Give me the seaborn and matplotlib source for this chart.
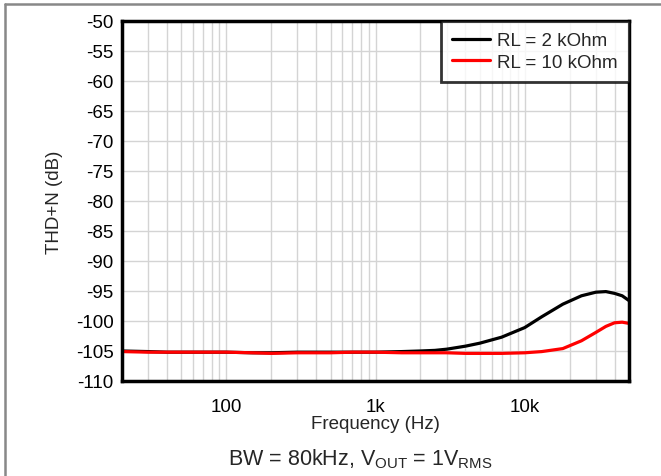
import matplotlib
matplotlib.use("Agg")
import matplotlib.pyplot as plt
import matplotlib.lines as mlines
from matplotlib.ticker import FixedLocator, NullFormatter
import seaborn as sns
import pandas as pd

freq = [20, 30, 40, 50, 70, 100, 150, 200, 300, 500, 700, 1000, 1500, 2000,
        2500, 3000, 4000, 5000, 7000, 10000, 13000, 18000, 24000, 30000,
        35000, 40000, 45000, 50000]
thd_2k = [-105.0, -105.1, -105.2, -105.2, -105.2, -105.2, -105.3, -105.3,
          -105.2, -105.2, -105.2, -105.2, -105.1, -105.0, -104.9, -104.7,
          -104.2, -103.7, -102.7, -101.1, -99.3, -97.2, -95.8, -95.2, -95.1,
          -95.4, -95.8, -96.6]
thd_10k = [-105.1, -105.2, -105.2, -105.2, -105.2, -105.2, -105.3, -105.4,
           -105.3, -105.3, -105.2, -105.2, -105.3, -105.3, -105.3, -105.3,
           -105.4, -105.4, -105.4, -105.3, -105.1, -104.6, -103.3, -101.9,
           -100.9, -100.3, -100.2, -100.4]
series_names = ["RL = 2 kOhm", "RL = 10 kOhm"]
series_colors = ["#000000", "#ff0000"]
x_tick_vals = [100, 1000, 10000]
x_tick_labels = ["100", "1k", "10k"]
y_ticks = list(range(-110, -45, 5))

df = pd.concat([
    pd.DataFrame({"freq": freq, "thd": thd_2k, "series": series_names[0]}),
    pd.DataFrame({"freq": freq, "thd": thd_10k, "series": series_names[1]}),
])

sns.set_style("white")
plt.rcParams["font.family"] = ["Liberation Sans", "DejaVu Sans"]
plt.rcParams["axes.unicode_minus"] = False

fig = plt.figure(figsize=(6.61, 4.77), dpi=100)
ax = fig.add_axes([0.1846, 0.1992, 0.9516 - 0.1846, 0.9539 - 0.1992])

sns.lineplot(data=df, x="freq", y="thd", hue="series", palette=series_colors,
             hue_order=series_names, linewidth=2.3, ax=ax, legend=True)

ax.set_xscale("log")
ax.set_xlim(20, 50000)
ax.set_ylim(-110, -50)
ax.set_yticks(y_ticks)
ax.set_yticklabels([str(v) for v in y_ticks])
ax.xaxis.set_major_locator(FixedLocator(x_tick_vals))
ax.set_xticklabels(x_tick_labels)
minor = [m * 10 ** e for e in range(1, 5) for m in range(2, 10) if 20 <= m * 10 ** e <= 50000]
ax.xaxis.set_minor_locator(FixedLocator(minor))
ax.xaxis.set_minor_formatter(NullFormatter())
ax.grid(True, which="both", color="#d4d4d4", linewidth=1.0)
ax.tick_params(which="both", length=0, labelsize=13.5, colors="black")
ax.tick_params(axis="x", pad=12)
ax.tick_params(axis="y", pad=6)

for s in ax.spines.values():
    s.set_color("black")
    s.set_linewidth(2.5)

ax.set_xlabel("Frequency (Hz)", fontsize=13.5, labelpad=0)
ax.set_ylabel("THD+N (dB)", fontsize=13.5, labelpad=9)

leg = ax.legend(loc="upper right", fontsize=13.5, frameon=True, fancybox=False,
                borderaxespad=0, handlelength=2.0, handletextpad=0.4,
                borderpad=0.6, labelspacing=0.22)
leg.get_frame().set_edgecolor("black")
leg.get_frame().set_linewidth(2.0)

fig.text(0.545, 12 / 477, r"BW = 80kHz, V$_{\mathregular{OUT}}$ = 1V$_{\mathregular{RMS}}$",
         ha="center", va="baseline", fontsize=15.5)

fig.add_artist(mlines.Line2D([5 / 661, 1], [1 - 5 / 477, 1 - 5 / 477],
                             color="#888888", linewidth=1.8, transform=fig.transFigure))
fig.add_artist(mlines.Line2D([5 / 661, 5 / 661], [0, 1 - 5 / 477],
                             color="#888888", linewidth=1.8, transform=fig.transFigure))

fig.savefig("out.png", dpi=100)
